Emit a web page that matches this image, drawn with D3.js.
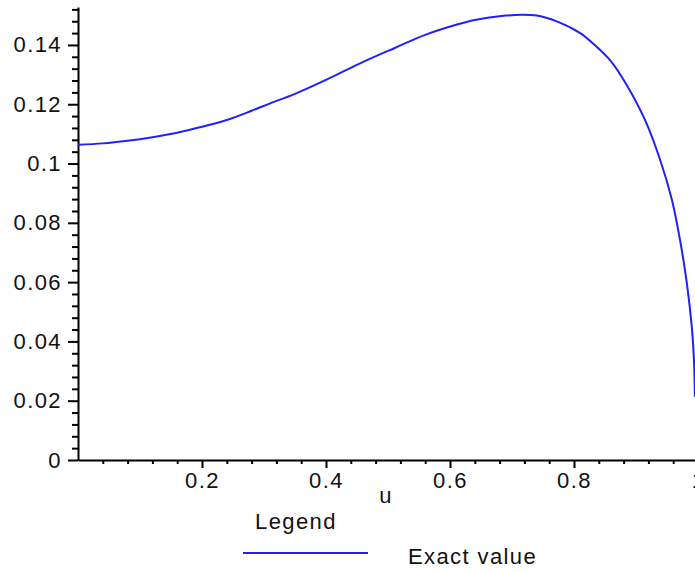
<!DOCTYPE html>
<html>
<head>
<meta charset="utf-8">
<script src="https://cdn.jsdelivr.net/npm/d3@7"></script>
<style>
  body { margin: 0; background: #fff; }
  svg { display: block; }
  .tick text, .lbl { font-family: "Liberation Sans", Arial, sans-serif; font-size: 22px; letter-spacing: 1.4px; fill: #111; }
</style>
</head>
<body>
<div id="chart"></div>
<script>
// values
const uValues = [0, 0.04, 0.08, 0.12, 0.16, 0.20, 0.24, 0.28, 0.31, 0.35, 0.40, 0.455, 0.51, 0.56, 0.61, 0.64,
                 0.69, 0.715, 0.74, 0.775, 0.81, 0.83, 0.86, 0.885, 0.9145, 0.939, 0.958, 0.971, 0.982, 0.99, 0.9935, 0.995];
const exactValues = [0.1063, 0.1068, 0.1077, 0.1089, 0.1104, 0.1124, 0.1147, 0.1178, 0.1203, 0.1235, 0.1282, 0.1338,
                     0.1389, 0.1434, 0.1468, 0.1484, 0.1499, 0.1502, 0.1499, 0.1477, 0.1440, 0.1406, 0.1344, 0.1265,
                     0.1147, 0.1012, 0.0877, 0.0742, 0.0597, 0.0449, 0.0337, 0.0213];
const xTicks = [0.2, 0.4, 0.6, 0.8, 1];
const yTicks = [0, 0.02, 0.04, 0.06, 0.08, 0.1, 0.12, 0.14];
const xLabel = "u";
const legendTitle = "Legend";
const seriesName = "Exact value";

const width = 695, height = 572;

const svg = d3.select("#chart").append("svg")
    .attr("width", width)
    .attr("height", height);

const x = d3.scaleLinear().domain([0, 1]).range([78, 698]);
const y = d3.scaleLinear().domain([0, 0.1528]).range([460, 7]);

const fmt = d => String(+d.toFixed(2));

// minor ticks
const xMinor = d3.range(0.04, 1.001, 0.04).filter(v => Math.abs(v * 5 - Math.round(v * 5)) > 1e-6);
const yMinor = d3.range(0.004, 0.1528, 0.004).filter(v => Math.abs(v * 50 - Math.round(v * 50)) > 1e-6);

svg.append("g")
    .attr("transform", `translate(0,${y(0)})`)
    .call(d3.axisBottom(x).tickValues(xMinor).tickSize(4).tickSizeOuter(0).tickFormat(""))
    .call(g => g.select(".domain").remove());

svg.append("g")
    .attr("transform", `translate(${x(0)},0)`)
    .call(d3.axisLeft(y).tickValues(yMinor).tickSize(6).tickSizeOuter(0).tickFormat(""))
    .call(g => g.select(".domain").remove());

// major axes
svg.append("g")
    .attr("transform", `translate(0,${y(0)})`)
    .call(d3.axisBottom(x).tickValues(xTicks).tickSize(8).tickSizeOuter(0).tickPadding(4).tickFormat(fmt));

svg.append("g")
    .attr("transform", `translate(${x(0)},0)`)
    .call(d3.axisLeft(y).tickValues(yTicks).tickSize(10).tickSizeOuter(0).tickPadding(6).tickFormat(fmt));

svg.selectAll(".domain").attr("stroke", "#000").attr("stroke-width", 2);
svg.selectAll(".tick line").attr("stroke", "#000").attr("stroke-width", 2);
svg.selectAll(".tick text").attr("font-family", null).attr("font-size", null);

// curve
const line = d3.line()
    .x((d, i) => x(uValues[i]))
    .y(d => y(d))
    .curve(d3.curveCatmullRom.alpha(0.5));

svg.append("path")
    .datum(exactValues)
    .attr("fill", "none")
    .attr("stroke", "#2020ff")
    .attr("stroke-width", 2)
    .attr("d", line);

// labels and legend
svg.append("text").attr("class", "lbl")
    .attr("x", 386).attr("y", 503)
    .attr("text-anchor", "middle")
    .text(xLabel);

svg.append("text").attr("class", "lbl")
    .attr("x", 255).attr("y", 529)
    .text(legendTitle);

svg.append("line")
    .attr("x1", 243).attr("x2", 368)
    .attr("y1", 553).attr("y2", 553)
    .attr("stroke", "#2020ff")
    .attr("stroke-width", 2);

svg.append("text").attr("class", "lbl")
    .attr("x", 408).attr("y", 564)
    .text(seriesName);
</script>
</body>
</html>
